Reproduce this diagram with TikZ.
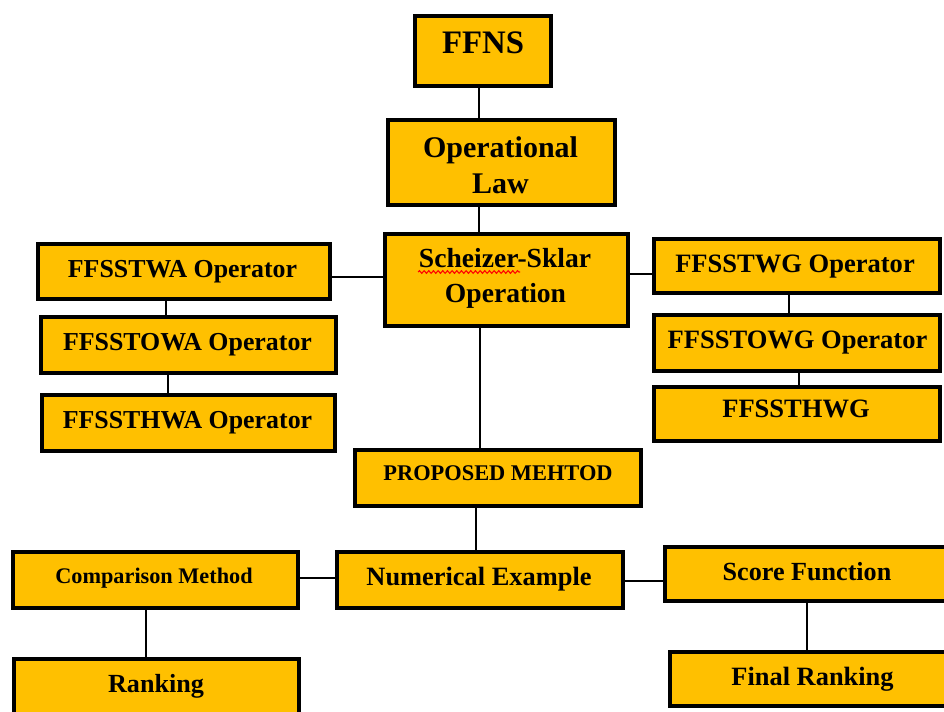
\documentclass[tikz,border=0pt]{standalone}
\usepackage{fontspec}
\setmainfont{Liberation Serif}
\usetikzlibrary{fit,decorations.pathmorphing}
\definecolor{gold}{HTML}{FFC000}
\begin{document}
\begin{tikzpicture}[x=0.75pt,y=-0.75pt,
  blk/.style={draw=black, fill=gold, line width=3pt, inner sep=0pt, outer sep=0pt},
  lbl/.style={anchor=base, inner sep=0pt, font=\bfseries\fontsize{#1}{#1}\selectfont},
  wire/.style={line width=1.7pt}]
\useasboundingbox (0,0) rectangle (944,711);
\clip (0,0) rectangle (944,711);

% boxes
\node[blk, fit={(415,16) (551,86)}] (ffns) {};
\node[blk, fit={(388,120) (615,205)}] (oplaw) {};
\node[blk, fit={(385,234) (628,326)}] (ss) {};
\node[blk, fit={(38,244) (330,299)}] (twa) {};
\node[blk, fit={(41,317) (336,373)}] (towa) {};
\node[blk, fit={(42,395) (335,451)}] (thwa) {};
\node[blk, fit={(654,239) (940,293)}] (twg) {};
\node[blk, fit={(654,315) (940,371)}] (towg) {};
\node[blk, fit={(654,387) (940,441)}] (thwg) {};
\node[blk, fit={(355,450) (641,506)}] (prop) {};
\node[blk, fit={(337,552) (623,608)}] (num) {};
\node[blk, fit={(13,552) (298,608)}] (cmp) {};
\node[blk, fit={(14,659) (299,740)}] (rank) {};
\node[blk, fit={(665,547) (960,601)}] (score) {};
\node[blk, fit={(670,652) (960,706)}] (frank) {};

% labels
\node[lbl=24.6] (ffns-t) at (483,53) {FFNS};
\node[lbl=22.5] (oplaw-t1) at (500.5,157) {Operational};
\node[lbl=22.5] (oplaw-t2) at (500.5,193) {Law};
\node[lbl=20.7] (ss-t1) at (505,267) {Scheizer-Sklar};
\node[lbl=20.7] (ss-t2) at (505.5,302) {Operation};
% spell-check squiggle under the first word
\draw[red, line width=0.8pt, decorate,
      decoration={snake, amplitude=1pt, segment length=3.5pt}]
  (418,272) -- (520,272);
\node[lbl=19.4] (twa-t) at (182.5,277) {FFSSTWA Operator};
\node[lbl=19.4] (towa-t) at (187.5,350) {FFSSTOWA Operator};
\node[lbl=19.4] (thwa-t) at (187.5,428) {FFSSTHWA Operator};
\node[lbl=19.9] (twg-t) at (795,272) {FFSSTWG Operator};
\node[lbl=19.9] (towg-t) at (797.5,348) {FFSSTOWG Operator};
\node[lbl=19.9] (thwg-t) at (796,417) {FFSSTHWG};
\node[lbl=16.8] (prop-t) at (498,480) {PROPOSED MEHTOD};
\node[lbl=19.8] (num-t) at (479,585) {Numerical Example};
\node[lbl=16.7] (cmp-t) at (154,583) {Comparison Method};
\node[lbl=19.6] (rank-t) at (156,692) {Ranking};
\node[lbl=19.6] (score-t) at (807,580) {Score Function};
\node[lbl=19.8] (frank-t) at (812.5,685) {Final Ranking};

% connector positions
\coordinate (xa) at (479,0);
\coordinate (xb) at (480,0);
\coordinate (xc) at (476,0);
\coordinate (xd) at (166,0);
\coordinate (xe) at (168,0);
\coordinate (xf) at (789,0);
\coordinate (xg) at (799,0);
\coordinate (xh) at (146,0);
\coordinate (xi) at (807,0);
\coordinate (ya) at (0,277);
\coordinate (yb) at (0,274);
\coordinate (yc) at (0,578);
\coordinate (yd) at (0,581);

% connectors
\draw[wire] (ffns.south -| xa) -- (oplaw.north -| xa);
\draw[wire] (oplaw.south -| xa) -- (ss.north -| xa);
\draw[wire] (ss.south -| xb) -- (prop.north -| xb);
\draw[wire] (prop.south -| xc) -- (num.north -| xc);
\draw[wire] (ss.west |- ya) -- (twa.east |- ya);
\draw[wire] (ss.east |- yb) -- (twg.west |- yb);
\draw[wire] (twa.south -| xd) -- (towa.north -| xd);
\draw[wire] (towa.south -| xe) -- (thwa.north -| xe);
\draw[wire] (twg.south -| xf) -- (towg.north -| xf);
\draw[wire] (towg.south -| xg) -- (thwg.north -| xg);
\draw[wire] (cmp.east |- yc) -- (num.west |- yc);
\draw[wire] (num.east |- yd) -- (score.west |- yd);
\draw[wire] (cmp.south -| xh) -- (rank.north -| xh);
\draw[wire] (score.south -| xi) -- (frank.north -| xi);
\end{tikzpicture}
\end{document}
